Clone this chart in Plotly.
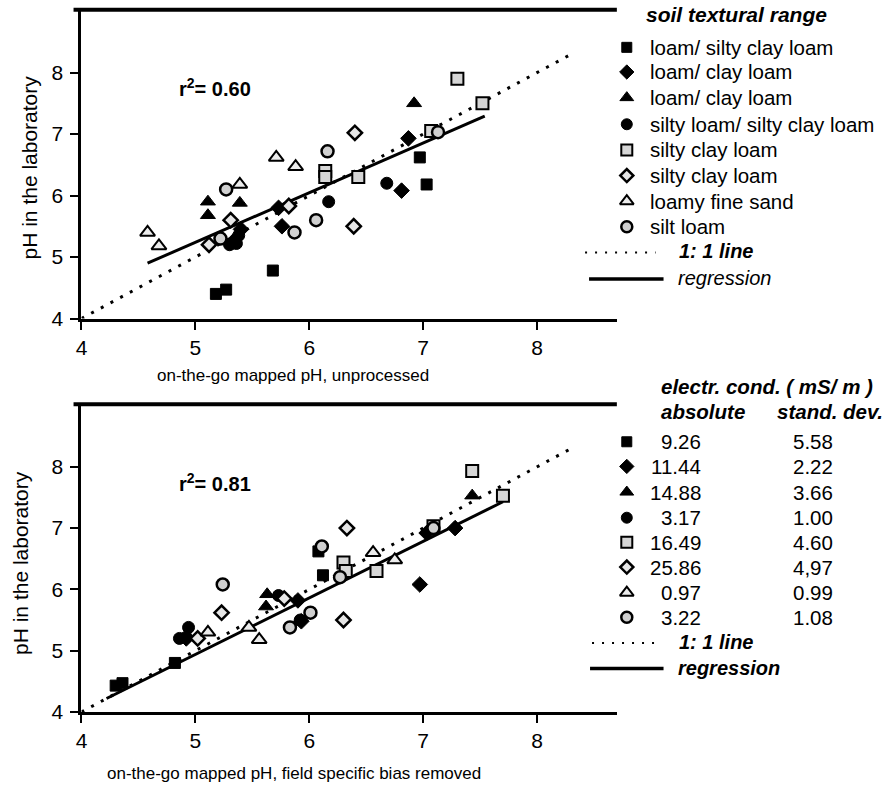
import plotly.graph_objects as go

FONT = "Liberation Sans, Arial, Helvetica, sans-serif"
W, H = 891, 792

# ---------------- data ----------------
soil_names = ["loam/ silty clay loam", "loam/ clay loam", "loam/ clay loam",
              "silty loam/ silty clay loam", "silty clay loam", "silty clay loam",
              "loamy fine sand", "silt loam"]
ec_absolute = ["9.26", "11.44", "14.88", "3.17", "16.49", "25.86", "0.97", "3.22"]
ec_stddev = ["5.58", "2.22", "3.66", "1.00", "4.60", "4,97", "0.99", "1.08"]

# unprocessed (top panel)
top_x = [
    [5.18, 5.27, 5.68, 6.97, 7.03],
    [5.33, 5.40, 5.73, 5.76, 6.81, 6.87],
    [5.11, 5.11, 5.39, 6.92],
    [5.30, 5.36, 5.38, 6.17, 6.68],
    [6.14, 6.14, 6.43, 7.07, 7.30, 7.52],
    [5.12, 5.31, 5.82, 6.40, 6.39],
    [4.58, 4.68, 5.39, 5.71, 5.88],
    [5.27, 5.22, 5.87, 6.06, 6.16, 7.13],
]
top_y = [
    [4.40, 4.47, 4.78, 6.62, 6.18],
    [5.25, 5.45, 5.80, 5.50, 6.08, 6.93],
    [5.90, 5.68, 5.88, 7.50],
    [5.20, 5.22, 5.35, 5.90, 6.20],
    [6.40, 6.30, 6.30, 7.05, 7.90, 7.50],
    [5.20, 5.60, 5.83, 7.02, 5.50],
    [5.40, 5.18, 6.18, 6.62, 6.47],
    [6.10, 5.30, 5.40, 5.60, 6.72, 7.03],
]
# field specific bias removed (bottom panel)
bot_x = [
    [4.30, 4.36, 4.82, 6.08, 6.12],
    [4.92, 5.90, 5.93, 6.97, 7.03, 7.28],
    [5.63, 5.62, 7.43],
    [4.86, 4.94, 4.92, 5.73, 5.92],
    [6.30, 6.32, 6.59, 7.09, 7.43, 7.70],
    [5.02, 5.23, 5.78, 6.33, 6.30],
    [5.11, 5.47, 5.56, 6.56, 6.75],
    [5.24, 5.83, 6.01, 6.11, 6.27, 7.09],
]
bot_y = [
    [4.43, 4.47, 4.80, 6.62, 6.23],
    [5.20, 5.82, 5.48, 6.08, 6.92, 7.00],
    [5.92, 5.72, 7.53],
    [5.20, 5.38, 5.22, 5.90, 5.50],
    [6.44, 6.30, 6.30, 7.03, 7.93, 7.53],
    [5.20, 5.62, 5.85, 7.00, 5.50],
    [5.30, 5.38, 5.18, 6.60, 6.48],
    [6.08, 5.38, 5.62, 6.70, 6.20, 7.00],
]
one_to_one = [4.0, 8.3]
top_reg_x, top_reg_y = [4.58, 7.54], [4.90, 7.29]
bot_reg_x, bot_reg_y = [4.22, 7.70], [4.22, 7.43]
r2_top, r2_bot = "0.60", "0.81"
tick_vals = [4, 5, 6, 7, 8]

# marker styles
styles = [
    dict(symbol="square", size=11, color="black", line=dict(color="black", width=1)),
    dict(symbol="diamond", size=12, color="black", line=dict(color="black", width=1)),
    dict(symbol="triangle-up", size=13, color="black", line=dict(color="black", width=1)),
    dict(symbol="circle", size=12, color="black", line=dict(color="black", width=1)),
    dict(symbol="square", size=12, color="#d6d6d6", line=dict(color="black", width=2)),
    dict(symbol="diamond", size=11, color="#e6e6e6", line=dict(color="black", width=2.5)),
    dict(symbol="triangle-up", size=13, color="#ececec", line=dict(color="black", width=2)),
    dict(symbol="circle", size=12, color="#d0d0d0", line=dict(color="black", width=2.5)),
]

fig = go.Figure()

def add_panel(xs, ys, regx, regy, xa, ya):
    fig.add_trace(go.Scatter(x=one_to_one, y=one_to_one, mode="lines", xaxis=xa, yaxis=ya,
                             line=dict(color="black", width=3, dash="3px,8px"),
                             showlegend=False, hoverinfo="skip"))
    fig.add_trace(go.Scatter(x=regx, y=regy, mode="lines", xaxis=xa, yaxis=ya,
                             line=dict(color="black", width=3), showlegend=False,
                             hoverinfo="skip"))
    for i in range(len(xs)):
        fig.add_trace(go.Scatter(x=xs[i], y=ys[i], mode="markers", xaxis=xa, yaxis=ya,
                                 marker=styles[i], name=soil_names[i], showlegend=False,
                                 cliponaxis=False))

add_panel(top_x, top_y, top_reg_x, top_reg_y, "x", "y")
add_panel(bot_x, bot_y, bot_reg_x, bot_reg_y, "x2", "y2")

def px(v):
    return v / W

def py(v):
    return 1 - v / H

X_L, X_R = 76, 615
TOP_T, TOP_B = 10, 323
BOT_T, BOT_B = 410, 722

axis_common = dict(showline=True, linecolor="black", linewidth=3, ticks="outside",
                   ticklen=8, tickwidth=2, tickcolor="black", showgrid=False,
                   zeroline=False, tickvals=tick_vals,
                   tickfont=dict(family=FONT, size=21, color="black"))

layout = dict(
    width=W, height=H, margin=dict(l=0, r=0, t=0, b=0),
    paper_bgcolor="white", plot_bgcolor="rgba(0,0,0,0)", showlegend=False,
    font=dict(family=FONT, color="black"),
    xaxis=dict(domain=[px(X_L), px(X_R)], range=[4, 8.7], anchor="y", **axis_common),
    yaxis=dict(domain=[py(TOP_B), py(TOP_T)], range=[4, 9.02], anchor="x",
               ticklabelstandoff=3, **axis_common),
    xaxis2=dict(domain=[px(X_L), px(X_R)], range=[4, 8.7], anchor="y2", **axis_common),
    yaxis2=dict(domain=[py(BOT_B), py(BOT_T)], range=[4, 9.02], anchor="x2",
                ticklabelstandoff=3, **axis_common),
    xaxis3=dict(domain=[0, 1], range=[0, W], visible=False, anchor="y3"),
    yaxis3=dict(domain=[0, 1], range=[H, 0], visible=False, anchor="x3"),
)
fig.update_layout(**layout)

# top borders of both panels
for yt in (TOP_T, BOT_T):
    fig.add_shape(type="line", xref="x3", yref="y3", x0=68, x1=X_R, y0=yt, y1=yt,
                  line=dict(color="black", width=4))

ann = []
def text(x, y, s, size, xanchor="left", angle=0):
    ann.append(dict(x=x, y=y, xref="x3", yref="y3", text=s, showarrow=False,
                    xanchor=xanchor, yanchor="middle", textangle=angle,
                    font=dict(family=FONT, size=size, color="black")))

# axis titles
text(289, 381, "on-the-go mapped pH, unprocessed", 17, "center")
text(290, 784, "on-the-go mapped pH, field specific bias removed", 17, "center")
text(24, 170, "pH in the laboratory", 21, "center", -90)
text(14, 571, "pH in the laboratory", 21, "center", -90)
# r^2
text(172, 89, "<b>r<sup>2</sup>= " + r2_top + "</b>", 20)
text(172, 489, "<b>r<sup>2</sup>= " + r2_bot + "</b>", 20)

# ---- legend 1 ----
text(642, 15, "<b><i>soil textural range</i></b>", 21)
rows1 = [48, 73, 99, 126, 152, 178, 204, 230]
for i, r in enumerate(rows1):
    st = dict(styles[i]); st["size"] = st["size"] - 1
    fig.add_trace(go.Scatter(x=[625], y=[r], xaxis="x3", yaxis="y3", mode="markers",
                             marker=st, showlegend=False, hoverinfo="skip", cliponaxis=False))
    text(646, r, soil_names[i], 20.5)
fig.add_trace(go.Scatter(x=[583, 654], y=[256, 256], xaxis="x3", yaxis="y3", mode="lines",
                         line=dict(color="black", width=2, dash="2px,8px"),
                         showlegend=False, hoverinfo="skip"))
text(676, 255, "<b><i>1: 1 line</i></b>", 20)
fig.add_trace(go.Scatter(x=[587, 662], y=[283, 283], xaxis="x3", yaxis="y3", mode="lines",
                         line=dict(color="black", width=3.5), showlegend=False, hoverinfo="skip"))
text(675, 282, "<i>regression</i>", 20)

# ---- legend 2 ----
text(657, 392, "<b><i>electr. cond. ( mS/ m )</i></b>", 20.5)
text(657, 417, "<b><i>absolute</i></b>", 20.5)
text(774, 417, "<b><i>stand. dev.</i></b>", 20.5)
rows2 = [448, 473, 499, 525, 550, 575, 601, 626]
for i, r in enumerate(rows2):
    st = dict(styles[i]); st["size"] = st["size"] - 1
    fig.add_trace(go.Scatter(x=[625], y=[r], xaxis="x3", yaxis="y3", mode="markers",
                             marker=st, showlegend=False, hoverinfo="skip", cliponaxis=False))
    text(702, r, ec_absolute[i], 20.5, "right")
    text(835, r, ec_stddev[i], 20.5, "right")
fig.add_trace(go.Scatter(x=[590, 653], y=[652, 652], xaxis="x3", yaxis="y3", mode="lines",
                         line=dict(color="black", width=2, dash="2px,8px"),
                         showlegend=False, hoverinfo="skip"))
text(676, 651, "<b><i>1: 1 line</i></b>", 20)
fig.add_trace(go.Scatter(x=[588, 662], y=[678, 678], xaxis="x3", yaxis="y3", mode="lines",
                         line=dict(color="black", width=3.5), showlegend=False, hoverinfo="skip"))
text(675, 677, "<b><i>regression</i></b>", 20)

fig.update_layout(annotations=ann)
fig.write_html("out.html")
